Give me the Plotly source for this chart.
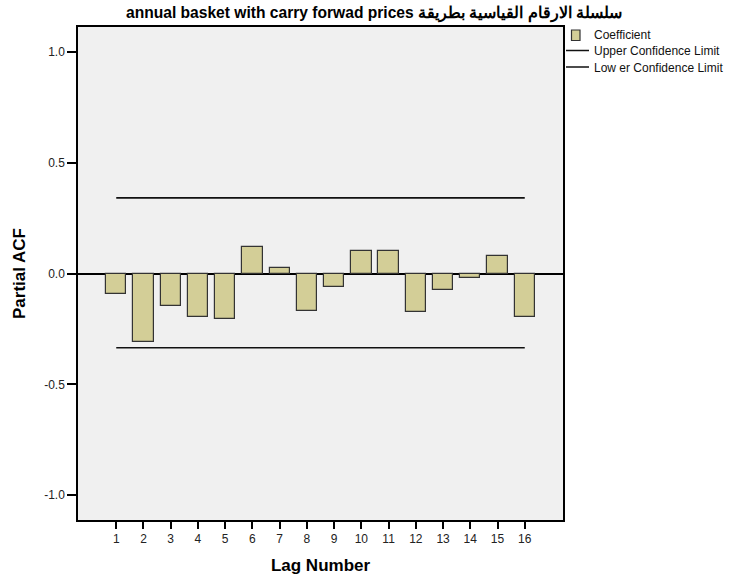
import plotly.graph_objects as go

lags = list(range(1, 17))
coefficients = [-0.090, -0.309, -0.147, -0.197, -0.206, 0.120, 0.024, -0.171,
                -0.060, 0.101, 0.101, -0.174, -0.075, -0.022, 0.078, -0.198]
upper_limit = [0.342] * 16
lower_limit = [-0.335] * 16
y_ticks = [-1.0, -0.5, 0.0, 0.5, 1.0]
y_tick_labels = ["-1.0", "-0.5", "0.0", "0.5", "1.0"]

title_text = "annual basket with carry forwad prices سلسلة الارقام القياسية بطريقة"
legend_labels = ["Coefficient", "Upper Confidence Limit", "Low er Confidence Limit"]

FONT = "Arial, Liberation Sans, sans-serif"
BAR_FILL = "#d3ce97"

fig = go.Figure()
fig.add_trace(go.Bar(
    x=lags, y=coefficients, width=0.745,
    marker=dict(color=BAR_FILL, line=dict(color="#333333", width=1.2)),
    name=legend_labels[0], showlegend=False,
))
fig.add_trace(go.Scatter(
    x=[lags[0], lags[-1]], y=[upper_limit[0], upper_limit[-1]], mode="lines",
    line=dict(color="#111111", width=1.6), name=legend_labels[1], showlegend=False,
))
fig.add_trace(go.Scatter(
    x=[lags[0], lags[-1]], y=[lower_limit[0], lower_limit[-1]], mode="lines",
    line=dict(color="#111111", width=1.6), name=legend_labels[2], showlegend=False,
))

# manual legend (paper coords relative to plot area)
W, H = 732, 578
L, R, T, B = 78, 169, 27, 58
pw, ph = W - L - R, H - T - B

def px_x(x):
    return (x - L) / pw

def px_y(y):
    return (H - B - y) / ph

shapes = [
    dict(type="rect", xref="paper", yref="paper",
         x0=px_x(571.5), x1=px_x(580), y0=px_y(30), y1=px_y(40.5),
         fillcolor=BAR_FILL, line=dict(color="#333333", width=1.2)),
    dict(type="line", xref="paper", yref="paper",
         x0=px_x(566), x1=px_x(589), y0=px_y(50.5), y1=px_y(50.5),
         line=dict(color="#111111", width=1.5)),
    dict(type="line", xref="paper", yref="paper",
         x0=px_x(566), x1=px_x(589), y0=px_y(67), y1=px_y(67),
         line=dict(color="#111111", width=1.5)),
]
annotations = []
for lab, yy in zip(legend_labels, [35, 51, 68]):
    annotations.append(dict(
        text=lab, xref="paper", yref="paper", x=px_x(592), y=px_y(yy),
        xanchor="left", yanchor="middle", showarrow=False,
        font=dict(family=FONT, size=12, color="#111111"),
    ))

fig.update_layout(
    width=W, height=H,
    margin=dict(l=L, r=R, t=T, b=B, autoexpand=False),
    paper_bgcolor="white", plot_bgcolor="#f0f0f0",
    showlegend=False,
    font=dict(family=FONT, size=12, color="#222222"),
    title=dict(text=title_text, x=374 / W, xref="container", xanchor="center",
               y=1 - 13 / H, yref="container", yanchor="middle",
               font=dict(family=FONT, size=15.6, color="black", weight="bold")),
    shapes=shapes, annotations=annotations,
    bargap=0,
)
fig.update_xaxes(
    range=[-0.404, 17.404], tickmode="array", tickvals=lags,
    ticktext=[str(v) for v in lags], automargin=False,
    ticks="outside", ticklen=7, tickwidth=1.5, tickcolor="black",
    showline=True, linecolor="black", linewidth=1.5, mirror=True,
    showgrid=False, zeroline=False,
    tickfont=dict(family=FONT, size=12, color="#222222"),
    title=dict(text="Lag Number", standoff=14,
               font=dict(family=FONT, size=17, color="black", weight="bold")),
)
fig.update_yaxes(
    range=[-1.113, 1.114], tickmode="array", tickvals=y_ticks, ticktext=y_tick_labels,
    automargin=False,
    ticks="outside", ticklen=9, tickwidth=1.5, tickcolor="black",
    showline=True, linecolor="black", linewidth=1.5, mirror=True,
    showgrid=False, zeroline=True, zerolinecolor="black", zerolinewidth=1.5,
    tickfont=dict(family=FONT, size=12, color="#222222"),
    title=dict(text="Partial ACF", standoff=14,
               font=dict(family=FONT, size=17, color="black", weight="bold")),
)

fig.write_html(
    "out.html",
    config={"displayModeBar": False},
    post_script="document.body.style.margin='0';document.body.style.padding='0';",
)
